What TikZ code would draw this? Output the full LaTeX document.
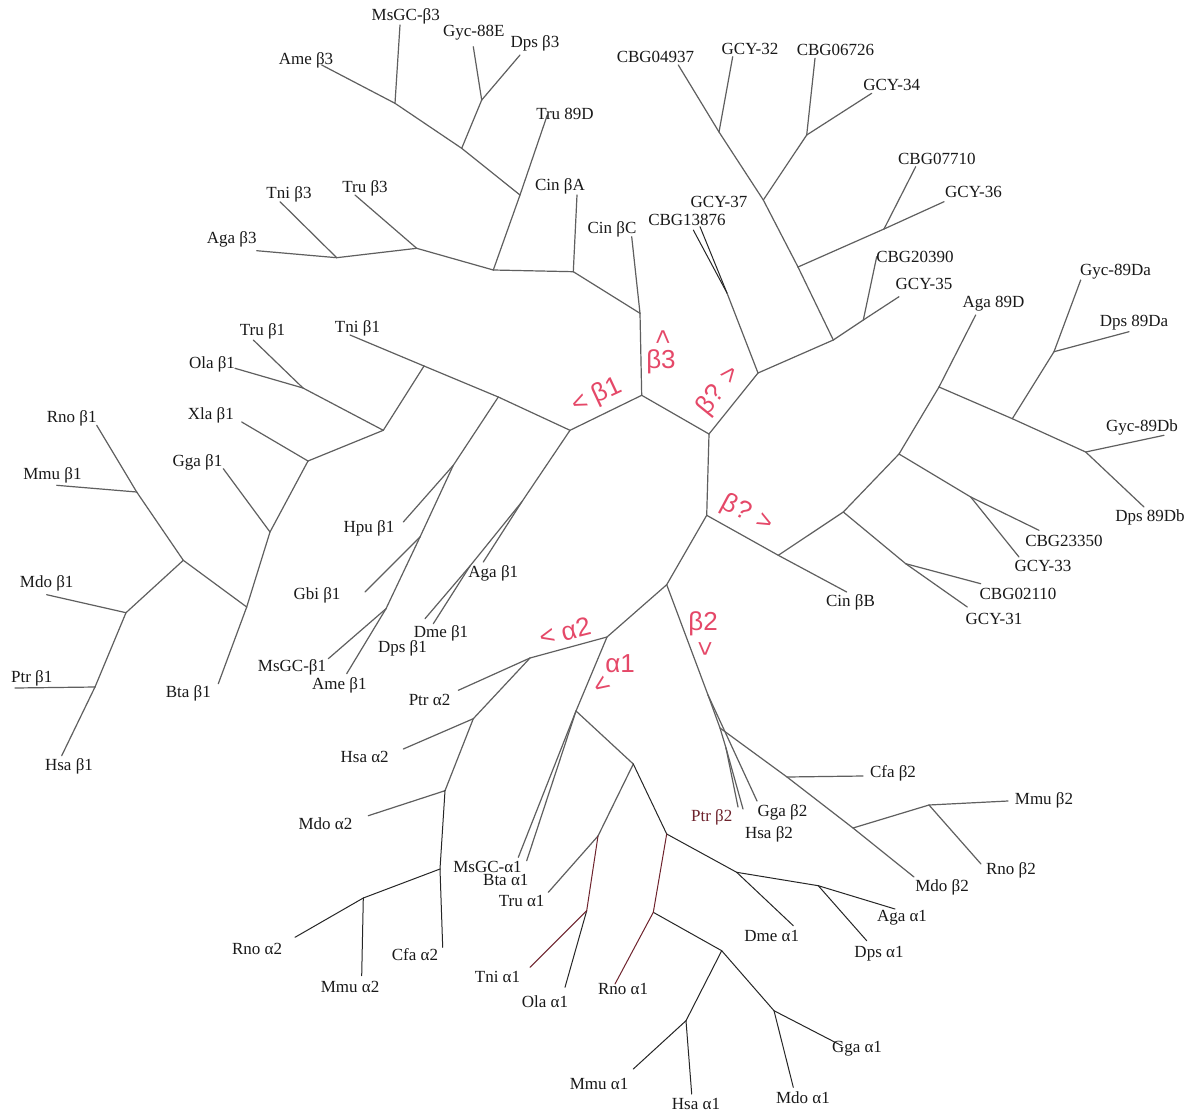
\documentclass[tikz,border=0pt]{standalone}
\usepackage{fontspec}
\setmainfont{Liberation Serif}
\newfontfamily\markfont{Liberation Sans}
\definecolor{branchgray}{RGB}{95,95,95}
\definecolor{markred}{RGB}{229,72,104}
\definecolor{branchred}{RGB}{110,35,45}
\tikzset{
  branch/.style={draw=branchgray, line width=1.2pt, line cap=round},
  dbranch/.style={draw=black!85, line width=1pt, line cap=round},
  rbranch/.style={draw=branchred, line width=1pt, line cap=round},
  lbl/.style={font=\fontsize{17}{19}\selectfont, inner sep=0pt, text=black!90},
  redmark/.style={font=\markfont\fontsize{26}{28}\selectfont, text=markred, inner sep=0pt}
}
\begin{document}
\begin{tikzpicture}[x=1pt, y=-1pt]
\fill[white] (0,0) rectangle (1189,1114);
\useasboundingbox (0,0) rectangle (1189,1114);

% ---- central spine ----
\coordinate (C1) at (641.7,395.3);
\coordinate (C2) at (709,434);
\coordinate (C3) at (706.7,515.3);
\coordinate (D1) at (666.7,584.7);

% ---- beta3 clade ----
\coordinate (b3a) at (640,313.3);
\coordinate (lCinC) at (631.7,236.7);
\coordinate (b3b) at (573.3,271.7);
\coordinate (lCinA) at (577,195);
\coordinate (b3c) at (493.3,270);
\coordinate (b3d) at (520,195);
\coordinate (lTru89D) at (547.3,115);
\coordinate (b3e) at (461.7,148.3);
\coordinate (b3f) at (481.7,100);
\coordinate (lGyc88E) at (473.3,46.7);
\coordinate (lDpsb3) at (520,55);
\coordinate (b3g) at (395,103.3);
\coordinate (lMsGCb3) at (400,25);
\coordinate (lAmeb3) at (321.7,65);
\coordinate (b3h) at (416.7,248.3);
\coordinate (lTrub3) at (355,195);
\coordinate (b3i) at (336.7,257.7);
\coordinate (lTnib3) at (280,201.7);
\coordinate (lAgab3) at (256.7,250.7);

% ---- beta1 clade ----
\coordinate (b1a) at (570,430.3);
\coordinate (b1c) at (498.3,397);
\coordinate (b1b) at (424,366);
\coordinate (lTnib1) at (350,335);
\coordinate (b1d) at (383.3,430.3);
\coordinate (b1l) at (303,388);
\coordinate (lTrub1) at (253.3,340);
\coordinate (lOlab1) at (235,368.3);
\coordinate (b1e) at (308,461);
\coordinate (lXlab1) at (241.7,422);
\coordinate (b1f) at (270,532);
\coordinate (lGgab1) at (223.3,468.7);
\coordinate (b1g) at (246.7,607);
\coordinate (lBtab1) at (218.3,683.7);
\coordinate (b1h) at (183.3,560.3);
\coordinate (b1i) at (136.7,492);
\coordinate (lRnob1) at (96.7,425.3);
\coordinate (lMmub1) at (56.7,485.3);
\coordinate (b1j) at (126,612.7);
\coordinate (lMdob1) at (46.7,594.7);
\coordinate (b1k) at (95,687);
\coordinate (lPtrb1) at (15,688);
\coordinate (lHsab1) at (61.7,755.7);
\coordinate (h1) at (453.3,465.3);
\coordinate (lHpub1) at (403.3,522);
\coordinate (h2) at (420,537);
\coordinate (lGbib1) at (365,592);
\coordinate (h3) at (386,608.7);
\coordinate (lMsGCb1) at (328.3,658.7);
\coordinate (lAmeb1) at (346.7,673.7);
\coordinate (a1) at (521.7,502);
\coordinate (lAgab1) at (483.3,562);
\coordinate (a2) at (470,566);
\coordinate (lDmeb1) at (433.3,623.7);
\coordinate (lDpsb1) at (425,618.7);

% ---- GCY clade ----
\coordinate (g1) at (758,373);
\coordinate (gx) at (727,293);
\coordinate (lCBG13876) at (693.3,230);
\coordinate (lGCY37) at (700,226.7);
\coordinate (g2) at (833.3,340);
\coordinate (g6) at (798,267);
\coordinate (g4) at (763.3,200);
\coordinate (g9) at (719,132);
\coordinate (lCBG04937) at (678.3,65);
\coordinate (lGCY32) at (732.7,56.7);
\coordinate (g8) at (806.7,135);
\coordinate (lCBG06726) at (815,58.3);
\coordinate (lGCY34) at (871.7,93.3);
\coordinate (g7) at (884,229);
\coordinate (lCBG07710) at (915.7,166.7);
\coordinate (lGCY36) at (944,201.7);
\coordinate (g5) at (863.3,320);
\coordinate (lCBG20390) at (876.7,256.7);
\coordinate (lGCY35) at (899,296.7);

% ---- 89D clade ----
\coordinate (h1n) at (778.3,555.3);
\coordinate (lCinbB) at (846.7,592);
\coordinate (h2n) at (843.3,512);
\coordinate (h3n) at (899,454);
\coordinate (h4n) at (939,387);
\coordinate (lAga89D) at (975.7,315);
\coordinate (h5n) at (1012.3,418.7);
\coordinate (h6n) at (1054,351.7);
\coordinate (lGyc89Da) at (1080.7,280);
\coordinate (lDps89Da) at (1129,331.7);
\coordinate (h7n) at (1085.7,452);
\coordinate (lGyc89Db) at (1164,435.3);
\coordinate (lDps89Db) at (1144,507);
\coordinate (h8n) at (970.7,497);
\coordinate (lCBG23350) at (1039,530.3);
\coordinate (lGCY33) at (1019,557);
\coordinate (h9n) at (905.7,563.7);
\coordinate (lCBG02110) at (980.7,583.7);
\coordinate (lGCY31) at (967.3,607);

% ---- alpha clades ----
\coordinate (aa) at (607,637);
\coordinate (A1) at (530,658);
\coordinate (lPtra2) at (458.3,690.3);
\coordinate (A2) at (473.3,718.7);
\coordinate (lHsaa2) at (403.3,749);
\coordinate (A3) at (445,790.7);
\coordinate (lMdoa2) at (368.3,815.7);
\coordinate (A4) at (440,869);
\coordinate (lCfaa2) at (442.7,947.3);
\coordinate (A5) at (363.3,898);
\coordinate (lMmua2) at (361.7,975.7);
\coordinate (lRnoa2) at (295,937.3);
\coordinate (X1) at (576,711);
\coordinate (lMsGCa1) at (518.3,857.3);
\coordinate (lBtaa1) at (526.7,860.7);
\coordinate (X2) at (633.3,764);
\coordinate (X2b) at (598,836);
\coordinate (lTrua1) at (548.3,892.3);
\coordinate (X3) at (586.7,910.7);
\coordinate (lTnia1) at (530,967.3);
\coordinate (lOlaa1) at (565,987.3);
\coordinate (X4) at (666.7,834);
\coordinate (X5) at (736.7,872.3);
\coordinate (lDmea1) at (793.3,925.7);
\coordinate (X6) at (818.3,885.7);
\coordinate (lAgaa1) at (895,909);
\coordinate (lDpsa1) at (866.7,940.7);
\coordinate (X7) at (653.3,912.3);
\coordinate (lRnoa1) at (615,984);
\coordinate (X8) at (721.7,950.7);
\coordinate (X9) at (686,1020.7);
\coordinate (lMmua1) at (633.3,1069);
\coordinate (lHsaa1) at (691.7,1094);
\coordinate (X10) at (774,1010.7);
\coordinate (lGgaa1) at (841.7,1045.7);
\coordinate (lMdoa1) at (793.3,1087.3);

% ---- beta2 clade ----
\coordinate (Q1) at (708,695);
\coordinate (lGgab2) at (757,801);
\coordinate (Qm) at (720,728);
\coordinate (Qph) at (726,748);
\coordinate (lPtrb2) at (738,807);
\coordinate (lHsab2) at (743,809);
\coordinate (P0) at (787,777);
\coordinate (lCfab2) at (863,776);
\coordinate (P2) at (853,828);
\coordinate (P1) at (929,805);
\coordinate (lMmub2) at (1008,801);
\coordinate (lRnob2) at (981,864);
\coordinate (lMdob2) at (914,877);

% ---- branches ----
\foreach \a/\b in {C1/C2, C2/C3, C1/b3a, C1/b1a, C3/D1,
  b3a/lCinC, b3a/b3b, b3b/lCinA, b3b/b3c, b3c/b3d, b3d/lTru89D, b3d/b3e,
  b3e/b3f, b3f/lGyc88E, b3f/lDpsb3, b3e/b3g, b3g/lMsGCb3, b3g/lAmeb3,
  b3c/b3h, b3h/lTrub3, b3h/b3i, b3i/lTnib3, b3i/lAgab3,
  b1a/b1c, b1c/b1b, b1b/lTnib1, b1b/b1d, b1d/b1l, b1l/lTrub1, b1l/lOlab1,
  b1d/b1e, b1e/lXlab1, b1e/b1f, b1f/lGgab1, b1f/b1g, b1g/lBtab1, b1g/b1h,
  b1h/b1i, b1i/lRnob1, b1i/lMmub1, b1h/b1j, b1j/lMdob1, b1j/b1k,
  b1k/lPtrb1, b1k/lHsab1,
  b1c/h1, h1/lHpub1, h1/h2, h2/lGbib1, h2/h3, h3/lMsGCb1, h3/lAmeb1,
  b1a/a1, a1/lAgab1, a1/a2, a2/lDmeb1, a2/lDpsb1,
  C2/g1, g1/gx, g1/g2, g2/g6, g6/g4, g4/g9, g9/lCBG04937, g9/lGCY32,
  g4/g8, g8/lCBG06726, g8/lGCY34, g6/g7, g7/lCBG07710, g7/lGCY36,
  g2/g5, g5/lCBG20390, g5/lGCY35,
  C3/h1n, h1n/lCinbB, h1n/h2n, h2n/h3n, h3n/h4n, h4n/lAga89D, h4n/h5n,
  h5n/h6n, h6n/lGyc89Da, h6n/lDps89Da, h5n/h7n, h7n/lGyc89Db, h7n/lDps89Db,
  h3n/h8n, h8n/lCBG23350, h8n/lGCY33, h2n/h9n, h9n/lCBG02110, h9n/lGCY31,
  D1/aa, aa/A1, A1/lPtra2, A1/A2, A2/lHsaa2, A2/A3, A3/lMdoa2,
  aa/X1, X1/lMsGCa1, X1/lBtaa1, X1/X2, X2/X2b, X2b/lTrua1,
  D1/Q1, Q1/lGgab2, Q1/Qm, Qm/Qph, Qph/lPtrb2, Qph/lHsab2, Qm/P0,
  P0/lCfab2, P0/P2, P2/lMdob2, P2/P1, P1/lMmub2, P1/lRnob2}
  \draw[branch] (\a) -- (\b);

\foreach \a/\b in {gx/lCBG13876, gx/lGCY37,
  A3/A4, A4/lCfaa2, A4/A5, A5/lMmua2, A5/lRnoa2,
  X3/lOlaa1, X2/X4, X4/X5, X5/lDmea1, X5/X6, X6/lAgaa1, X6/lDpsa1,
  X7/X8, X8/X9, X9/lMmua1, X9/lHsaa1, X8/X10, X10/lGgaa1, X10/lMdoa1}
  \draw[dbranch] (\a) -- (\b);

\foreach \a/\b in {X2b/X3, X3/lTnia1, X4/X7, X7/lRnoa1}
  \draw[rbranch] (\a) -- (\b);

% ---- leaf labels ----
\node[lbl] (tAmeb3) at (306,60) {Ame β3};
\node[lbl] (tMsGCb3) at (405.8,16.7) {MsGC-β3};
\node[lbl] (tGyc88E) at (473.7,33) {Gyc-88E};
\node[lbl] (tDpsb3) at (535,43) {Dps β3};
\node[lbl] (tTru89D) at (565,114) {Tru 89D};
\node[lbl] (tCinA) at (560,186) {Cin βA};
\node[lbl] (tCinC) at (612,229) {Cin βC};
\node[lbl] (tTnib3) at (289,194) {Tni β3};
\node[lbl] (tTrub3) at (365,188.3) {Tru β3};
\node[lbl] (tAgab3) at (231.7,239) {Aga β3};

\node[lbl] (tTnib1) at (357.5,328.3) {Tni β1};
\node[lbl] (tTrub1) at (262.5,331.7) {Tru β1};
\node[lbl] (tOlab1) at (212,364.3) {Ola β1};
\node[lbl] (tXlab1) at (210.8,415.3) {Xla β1};
\node[lbl] (tGgab1) at (197.5,462.7) {Gga β1};
\node[lbl] (tBtab1) at (188.3,693.7) {Bta β1};
\node[lbl] (tRnob1) at (71.7,418.7) {Rno β1};
\node[lbl] (tMmub1) at (52.5,475.3) {Mmu β1};
\node[lbl] (tMdob1) at (46.7,583.7) {Mdo β1};
\node[lbl] (tPtrb1) at (31.7,678) {Ptr β1};
\node[lbl] (tHsab1) at (69,766.7) {Hsa β1};
\node[lbl] (tHpub1) at (369,528.7) {Hpu β1};
\node[lbl] (tGbib1) at (317,595.3) {Gbi β1};
\node[lbl] (tMsGCb1) at (292,667) {MsGC-β1};
\node[lbl] (tAmeb1) at (339.3,685.3) {Ame β1};
\node[lbl] (tDpsb1) at (402.5,648.7) {Dps β1};
\node[lbl] (tDmeb1) at (441,633.7) {Dme β1};
\node[lbl] (tAgab1) at (493.3,573.7) {Aga β1};

\node[lbl] (tCBG04937) at (655.5,56.7) {CBG04937};
\node[lbl] (tGCY32) at (750,49.3) {GCY-32};
\node[lbl] (tCBG06726) at (835.5,50) {CBG06726};
\node[lbl] (tGCY34) at (891.7,85) {GCY-34};
\node[lbl] (tCBG07710) at (936.8,159.3) {CBG07710};
\node[lbl] (tGCY36) at (973.5,191.7) {GCY-36};
\node[lbl] (tCBG20390) at (915,256.7) {CBG20390};
\node[lbl] (tGCY35) at (924,284) {GCY-35};
\node[lbl] (tGCY37) at (719,201.7) {GCY-37};
\node[lbl] (tCBG13876) at (687,220) {CBG13876};

\node[lbl] (tAga89D) at (993.5,303.3) {Aga 89D};
\node[lbl] (tGyc89Da) at (1115.5,271.7) {Gyc-89Da};
\node[lbl] (tDps89Da) at (1134,322.3) {Dps 89Da};
\node[lbl] (tGyc89Db) at (1142,427) {Gyc-89Db};
\node[lbl] (tDps89Db) at (1150,517) {Dps 89Db};
\node[lbl] (tCBG23350) at (1064,541.3) {CBG23350};
\node[lbl] (tGCY33) at (1043,566.3) {GCY-33};
\node[lbl] (tCBG02110) at (1018,593.7) {CBG02110};
\node[lbl] (tGCY31) at (994,618.7) {GCY-31};
\node[lbl] (tCinbB) at (850.5,602) {Cin βB};

\node[lbl] (tPtra2) at (429.5,700.3) {Ptr α2};
\node[lbl] (tHsaa2) at (364.7,757.3) {Hsa α2};
\node[lbl] (tMdoa2) at (325.5,824) {Mdo α2};
\node[lbl] (tCfaa2) at (415,954.7) {Cfa α2};
\node[lbl] (tMmua2) at (350,986.7) {Mmu α2};
\node[lbl] (tRnoa2) at (257,949) {Rno α2};
\node[lbl] (tMsGCa1) at (487.5,866.7) {MsGC-α1};
\node[lbl] (tBtaa1) at (505.8,880) {Bta α1};
\node[lbl] (tTrua1) at (521.7,901.3) {Tru α1};
\node[lbl] (tTnia1) at (497.5,977.3) {Tni α1};
\node[lbl] (tOlaa1) at (545,1001.3) {Ola α1};
\node[lbl] (tRnoa1) at (623,989) {Rno α1};
\node[lbl] (tMmua1) at (599,1084) {Mmu α1};
\node[lbl] (tHsaa1) at (696,1104) {Hsa α1};
\node[lbl] (tMdoa1) at (803,1098) {Mdo α1};
\node[lbl] (tGgaa1) at (857,1049) {Gga α1};
\node[lbl] (tDmea1) at (771.7,935.7) {Dme α1};
\node[lbl] (tAgaa1) at (902,918) {Aga α1};
\node[lbl] (tDpsa1) at (879,954) {Dps α1};

\node[lbl, text=branchred] (tPtrb2) at (711.7,817.3) {Ptr β2};
\node[lbl] (tGgab2) at (782.5,812.3) {Gga β2};
\node[lbl] (tHsab2) at (769,834) {Hsa β2};
\node[lbl] (tCfab2) at (893,773) {Cfa β2};
\node[lbl] (tMmub2) at (1044,800) {Mmu β2};
\node[lbl] (tRnob2) at (1011,870.7) {Rno β2};
\node[lbl] (tMdob2) at (942,887.3) {Mdo β2};

% ---- clade marks ----
\node[redmark, rotate=25] (mB1) at (597,396) {< β1};
\node[redmark, rotate=-90] (mB3up) at (662,337) {<};
\node[redmark] (mB3) at (661,362) {β3};
\node[redmark, rotate=51] (mBq1) at (719,391) {β? >};
\node[redmark, rotate=-28] (mBq2) at (747,514) {β? >};
\node[redmark, rotate=14] (mA2) at (565,632) {< α2};
\node[redmark] (mA1) at (620,664) {α1};
\node[redmark, rotate=35] (mA1arr) at (602,686) {<};
\node[redmark] (mB2) at (703,624) {β2};
\node[redmark, rotate=90] (mB2dn) at (706,649) {<};
\end{tikzpicture}
\end{document}
